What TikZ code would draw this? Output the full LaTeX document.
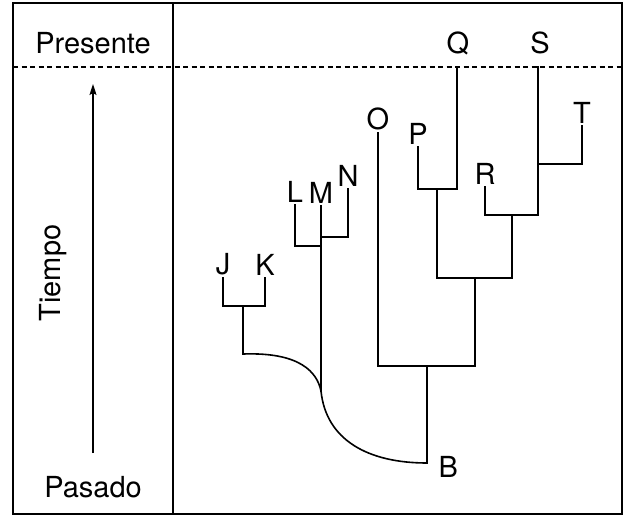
\documentclass[tikz,border=0pt]{standalone}
\usepackage{fontspec}
\setmainfont{TeX Gyre Heros}
\usetikzlibrary{arrows.meta}
% a tip of the tree: coordinate where its branch starts, label set above it
\newcommand{\tip}[4]{
\coordinate (#1) at (#2,#3);
\node[taxon] (lab#1) at (#2,#3) {#4};
}
\tikzset{
  taxon/.style={anchor=south, inner sep=2.5pt, font=\fontsize{29}{33}\selectfont},
  label/.style={font=\fontsize{29}{33}\selectfont},
  branch/.style={line width=1.6pt, line cap=rect},
}

\begin{document}
\begin{tikzpicture}[x=1pt, y=-1pt, line join=miter]
\useasboundingbox (0,0) rectangle (626,516);

% frame, time column and present line
\draw[line width=1.6pt] (13,3) rectangle (622,514);
\draw[line width=1.6pt] (173,3) -- (173,514);
\draw[line width=1.4pt, dash pattern=on 5pt off 3.5pt] (13,67) -- (622,67);

\node[label] (presente) at (93,43) {Presente};
\node[label] (pasado) at (93,487) {Pasado};
\node[label, rotate=90] (tiempo) at (53,273) {Tiempo};
\coordinate (tbottom) at (93,453);
\coordinate (ttop) at (93,84);
\draw[line width=1.4pt, -{Stealth[length=11pt, width=7pt, inset=2pt]}] (tbottom) -- (ttop);

% tips
\tip{J}{223}{278}{J}
\tip{K}{265}{278}{K}
\tip{L}{295}{205}{L}
\tip{M}{321}{206}{M}
\tip{N}{348}{189}{N}
\tip{O}{378}{133}{O}
\tip{P}{418}{147}{P}
\tip{R}{485}{187}{R}
\tip{T}{582}{126}{T}
% living tips reach the present line
\coordinate (Q) at (457,67);
\coordinate (S) at (538,67);
\node[label] (labQ) at (458,43) {Q};
\node[label] (labS) at (540,43) {S};

% branch points
\coordinate (jk) at (243,306);
\coordinate (jkbase) at (243,354);
\coordinate (lm) at (321,246);
\coordinate (mn) at (321,237);
\coordinate (mcross) at (321,391);
\coordinate (pq) at (437,189);
\coordinate (st) at (538,164);
\coordinate (rs) at (512,215);
\coordinate (pqrst) at (475,278);
\coordinate (root) at (427,366);
\coordinate (B) at (427,463);
\node[label, anchor=west] (labB) at (435,467) {B};

% branches
\draw[branch] (J) |- (jk) -| (K);
\draw[branch] (jk) -- (jkbase);
\draw[branch] (L) |- (lm);
\draw[branch] (N) |- (mn);
\draw[branch] (M) -- (mcross);
\draw[branch] (P) |- (pq) -| (Q);
\draw[branch] (T) |- (st);
\draw[branch] (R) |- (rs) -| (S);
\draw[branch] (pq) |- (pqrst) -| (rs);
\draw[branch] (O) |- (root) -| (pqrst);
\draw[branch] (root) -- (B);
\draw[line width=1.6pt] (jkbase) .. controls (300,352) and (317,372) .. (mcross)
  .. controls (326,440) and (368,463) .. (B);

\end{tikzpicture}
\end{document}
